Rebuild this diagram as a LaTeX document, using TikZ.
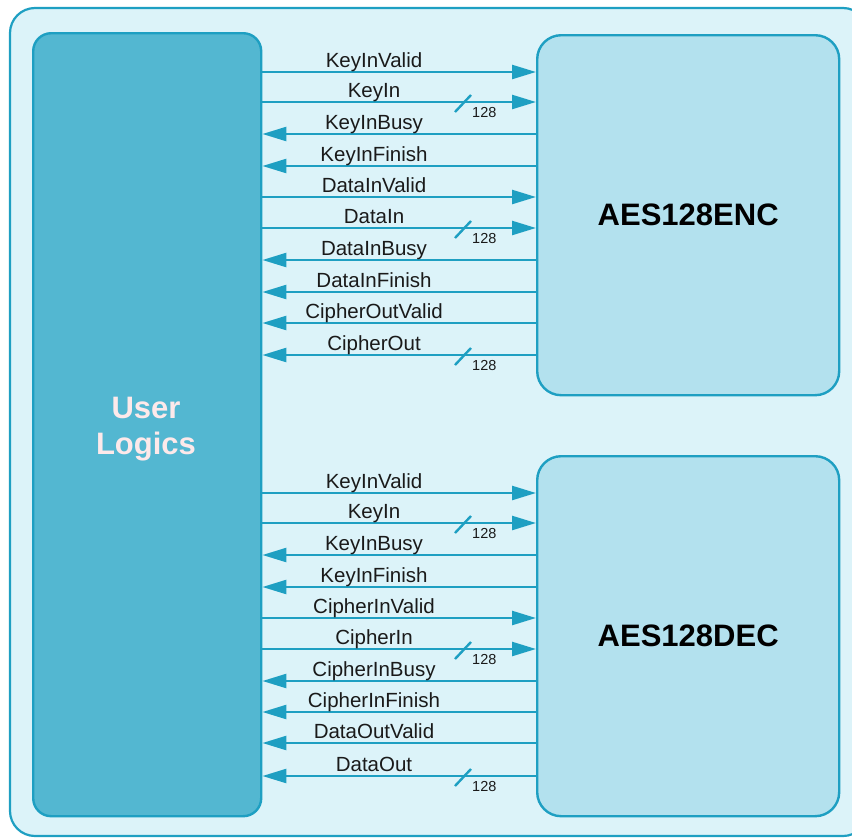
\documentclass[tikz,border=0pt]{standalone}
\usepackage{fontspec}
\setmainfont{Liberation Sans}
\usetikzlibrary{arrows.meta}
\definecolor{outerfill}{HTML}{DCF3F9}
\definecolor{edge}{HTML}{1E9FC2}
\definecolor{userfill}{HTML}{53B7D1}
\definecolor{blockfill}{HTML}{B3E1EE}
\definecolor{usertext}{HTML}{FDE9EA}
\definecolor{txt}{HTML}{1A1A1A}
\tikzset{
  outerbox/.style={draw=edge, fill=outerfill, line width=2.2pt, rounded corners=25pt},
  userbox/.style={draw=edge, fill=userfill, line width=2.4pt, rounded corners=18pt, inner sep=0pt, anchor=north west},
  blockbox/.style={draw=edge, fill=blockfill, line width=2.4pt, rounded corners=24pt, inner sep=0pt, anchor=north west},
  sig/.style={draw=edge, line width=2.4pt},
  tipr/.style={sig, -{Triangle[length=24pt,width=14pt]}},
  tipl/.style={sig, {Triangle[length=24pt,width=14pt]}-},
  lbl/.style={anchor=base, font=\fontsize{20.5}{20.5}\selectfont, text=txt, inner sep=0pt},
  buslbl/.style={anchor=base west, font=\fontsize{14.5}{14.5}\selectfont, text=txt, inner sep=0pt},
  slash/.style={draw=edge, line width=2.4pt},
  title/.style={font=\bfseries\fontsize{31}{31}\selectfont, text=black},
}
\begin{document}
\begin{tikzpicture}[x=1pt,y=-1pt]
\useasboundingbox (0,0) rectangle (852,838);
\draw[outerbox] (10,8) rectangle (868,836);
\node[userbox, minimum width=228pt, minimum height=783pt] (ul) at (32,32) {};
\node[align=center, font=\bfseries\fontsize{31}{36}\selectfont, text=usertext] (ultxt) at (146,429) {User\\Logics};
\node[blockbox, minimum width=302pt, minimum height=360pt] (enc) at (536,34) {};
\node[title] (enctxt) at (enc.center) {AES128ENC};
\node[blockbox, minimum width=302pt, minimum height=360pt] (dec) at (536,455) {};
\node[title] (dectxt) at (dec.center) {AES128DEC};
% signals: y / direction / label / bus / target box
\foreach \y/\d/\t/\b/\bx [count=\i] in {
  72/r/KeyInValid/0/enc, 102/r/KeyIn/1/enc, 134/l/KeyInBusy/0/enc, 166/l/KeyInFinish/0/enc,
  197/r/DataInValid/0/enc, 228/r/DataIn/1/enc, 260/l/DataInBusy/0/enc, 292/l/DataInFinish/0/enc,
  323/l/CipherOutValid/0/enc, 355/l/CipherOut/1/enc,
  493/r/KeyInValid/0/dec, 523/r/KeyIn/1/dec, 555/l/KeyInBusy/0/dec, 587/l/KeyInFinish/0/dec,
  618/r/CipherInValid/0/dec, 649/r/CipherIn/1/dec, 681/l/CipherInBusy/0/dec, 712/l/CipherInFinish/0/dec,
  743/l/DataOutValid/0/dec, 776/l/DataOut/1/dec} {
  \coordinate (s\i) at (0,\y);
  \if\d r
    \draw[tipr] (ul.east |- s\i) -- (\bx.west |- s\i);
  \else
    \draw[tipl] (ul.east |- s\i) -- (\bx.west |- s\i);
  \fi
  \node[lbl] (t\i) at (374,\y-5) {\t};
  \ifnum\b=1
    \draw[slash] (455,\y+10) -- (471,\y-7);
    \node[buslbl] (w\i) at (472,\y+15) {128};
  \fi
}
\end{tikzpicture}
\end{document}
